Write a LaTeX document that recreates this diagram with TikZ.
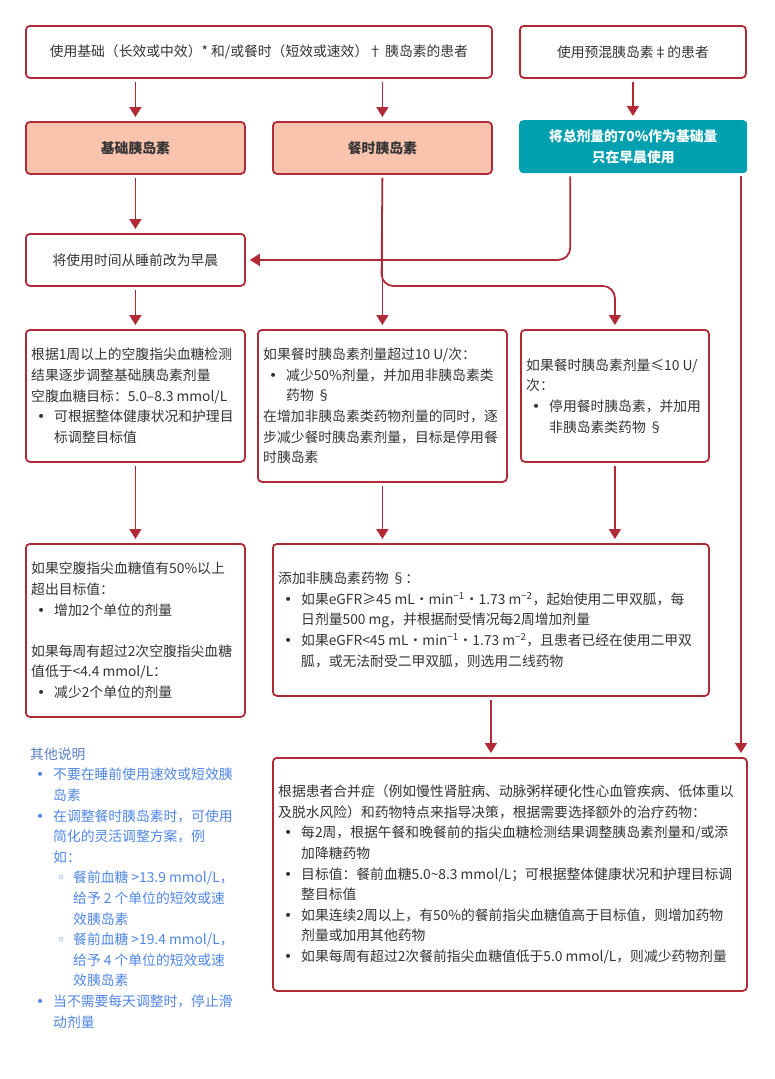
\documentclass[tikz,border=0pt]{standalone}
\usepackage{fontspec}
\setmainfont{Noto Sans CJK SC}
\newfontfamily\dotfont{DejaVu Sans}
\usepackage{tikz}
\usepackage{xcolor}
\usetikzlibrary{arrows.meta}
\definecolor{lineRed}{HTML}{B02A37}
\definecolor{salmon}{HTML}{F9C3AE}
\definecolor{boxTeal}{HTML}{00A0B0}
\definecolor{textGray}{HTML}{333333}
\definecolor{noteBlue}{HTML}{4F86E6}
\definecolor{noteHead}{HTML}{5A7FC8}
\newcommand{\bul}{\hspace*{6pt}\makebox[17pt][l]{\dotfont •}}
\newcommand{\cnt}{\hspace*{23pt}}
\newcommand{\sbul}{\hspace*{27pt}\makebox[16pt][l]{\dotfont ◦}}
\newcommand{\scnt}{\hspace*{43pt}}

\begin{document}
\fontsize{13.8}{20.6}\selectfont
\begin{tikzpicture}[x=1pt, y=-1pt,
            box/.style={draw=lineRed, line width=1.8pt, rounded corners=4pt, fill=white, anchor=north west, inner sep=0pt, text=textGray},
            pinkbox/.style={box, fill=salmon, font=\bfseries},
            tealbox/.style={fill=boxTeal, rounded corners=4pt, anchor=north west, inner sep=0pt, align=center, text=white, font=\bfseries},
            txt/.style={anchor=west, align=left, inner sep=0pt, text=textGray},
            arr/.style={draw=lineRed, line width=1.8pt, -{Triangle[width=12pt,length=10pt]}, shorten <=3pt, shorten >=4pt}]
            \useasboundingbox (0,0) rectangle (774,1079);
            \node[box, minimum width=466, minimum height=52] (patA) at (25,25) {使用基础（长效或中效）* 和/或餐时（短效或速效）† 胰岛素的患者};
            \node[box, minimum width=226, minimum height=52] (patB) at (519,25) {使用预混胰岛素‡的患者};
            \node[pinkbox, minimum width=219, minimum height=52] (basal) at (25,121) {基础胰岛素};
            \node[pinkbox, minimum width=219, minimum height=52] (meal) at (272,121) {餐时胰岛素};
            \node[tealbox, minimum width=228, minimum height=53] (premix) at (519,120) {将总剂量的70\%作为基础量\\只在早晨使用};
            \node[box, minimum width=219, minimum height=52] (morning) at (25,233) {将使用时间从睡前改为早晨};
            \node[box, minimum width=219, minimum height=132] (titrate) at (25,329) {};
            \node[box, minimum width=249, minimum height=152] (mealHi) at (257,329) {};
            \node[box, minimum width=188, minimum height=132] (mealLo) at (520,329) {};
            \node[box, minimum width=219, minimum height=173] (fpg) at (25,543) {};
            \node[box, minimum width=436, minimum height=152] (nonIns) at (272,543) {};
            \node[box, minimum width=474, minimum height=233] (extra) at (272,757) {};
            \node[txt] (titrateTxt) at ([xshift=6pt]titrate.west) {根据1周以上的空腹指尖血糖检测\\
                结果逐步调整基础胰岛素剂量\\
                空腹血糖目标：5.0–8.3 mmol/L\\
                \bul 可根据整体健康状况和护理目\\
                \cnt 标调整目标值};
            \node[txt] (mealHiTxt) at ([xshift=6pt]mealHi.west) {如果餐时胰岛素剂量超过10 U/次：\\
                \bul 减少50\%剂量，并加用非胰岛素类\\
                \cnt 药物 §\\
                在增加非胰岛素类药物剂量的同时，逐\\
                步减少餐时胰岛素剂量，目标是停用餐\\
                时胰岛素};
            \node[txt] (mealLoTxt) at ([xshift=6pt]mealLo.west) {如果餐时胰岛素剂量≤10 U/\\
                次：\\
                \bul 停用餐时胰岛素，并加用\\
                \cnt 非胰岛素类药物 §};
            \node[txt] (fpgTxt) at ([xshift=6pt]fpg.west) {如果空腹指尖血糖值有50\%以上\\
                超出目标值：\\
                \bul 增加2个单位的剂量\\[20.6pt]
                如果每周有超过2次空腹指尖血糖\\
                值低于<4.4 mmol/L：\\
                \bul 减少2个单位的剂量};
            \node[txt] (nonInsTxt) at ([xshift=6pt]nonIns.west) {添加非胰岛素药物 §：\\
                \bul 如果eGFR≥45 mL・min\textsuperscript{−1}・1.73 m\textsuperscript{−2}，起始使用二甲双胍，每\\
                \cnt 日剂量500 mg，并根据耐受情况每2周增加剂量\\
                \bul 如果eGFR<45 mL・min\textsuperscript{−1}・1.73 m\textsuperscript{−2}，且患者已经在使用二甲双\\
                \cnt 胍，或无法耐受二甲双胍，则选用二线药物};
            \node[txt] (extraTxt) at ([xshift=6pt]extra.west) {根据患者合并症（例如慢性肾脏病、动脉粥样硬化性心血管疾病、低体重以\\
                及脱水风险）和药物特点来指导决策，根据需要选择额外的治疗药物：\\
                \bul 每2周，根据午餐和晚餐前的指尖血糖检测结果调整胰岛素剂量和/或添\\
                \cnt 加降糖药物\\
                \bul 目标值：餐前血糖5.0\textasciitilde 8.3 mmol/L；可根据整体健康状况和护理目标调\\
                \cnt 整目标值\\
                \bul 如果连续2周以上，有50\%的餐前指尖血糖值高于目标值，则增加药物\\
                \cnt 剂量或加用其他药物\\
                \bul 如果每周有超过2次餐前指尖血糖值低于5.0 mmol/L，则减少药物剂量};
            \node[txt, text=noteBlue] (notes) at (30,888) {{\color{noteHead}其他说明}\\
                \bul 不要在睡前使用速效或短效胰\\
                \cnt 岛素\\
                \bul 在调整餐时胰岛素时，可使用\\
                \cnt 简化的灵活调整方案，例\\
                \cnt 如：\\
                \sbul 餐前血糖 >13.9 mmol/L，\\
                \scnt 给予 2 个单位的短效或速\\
                \scnt 效胰岛素\\
                \sbul 餐前血糖 >19.4 mmol/L，\\
                \scnt 给予 4 个单位的短效或速\\
                \scnt 效胰岛素\\
                \bul 当不需要每天调整时，停止滑\\
                \cnt 动剂量};
            \coordinate (split) at (381.5,286);
            \coordinate (rline) at (741,0);
            \draw[arr] (patA.south -| basal.north) -- (basal.north);
            \draw[arr] (patA.south -| meal.north) -- (meal.north);
            \draw[arr] (patB.south) -- (patB.south |- premix.north);
            \draw[arr] (basal.south) -- (morning.north);
            \draw[arr, rounded corners=12pt] ([xshift=-63pt]premix.south) |- (morning.east);
            \draw[arr] (meal.south) -- (mealHi.north);
            \draw[arr, rounded corners=12pt] (meal.south) -- (split) -| (mealLo.north);
            \draw[arr] (premix.south -| rline) -- (extra.north -| rline);
            \draw[arr] (morning.south) -- (titrate.north);
            \draw[arr] (titrate.south) -- (fpg.north);
            \draw[arr] (mealHi.south) -- (mealHi.south |- nonIns.north);
            \draw[arr] (mealLo.south) -- (mealLo.south |- nonIns.north);
            \draw[arr] (nonIns.south) -- (nonIns.south |- extra.north);
        \end{tikzpicture}
\end{document}
